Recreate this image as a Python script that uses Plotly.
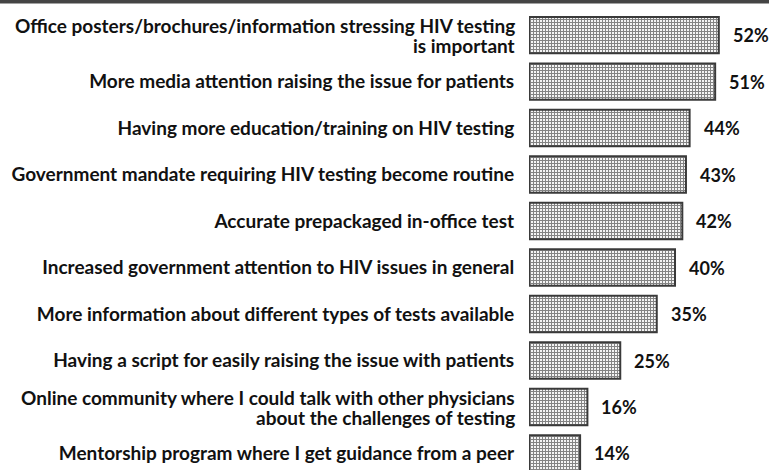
import plotly.graph_objects as go

categories = [
    "Office posters/brochures/information stressing HIV testing<br>is important",
    "More media attention raising the issue for patients",
    "Having more education/training on HIV testing",
    "Government mandate requiring HIV testing become routine",
    "Accurate prepackaged in-office test",
    "Increased government attention to HIV issues in general",
    "More information about different types of tests available",
    "Having a script for easily raising the issue with patients",
    "Online community where I could talk with other physicians<br>about the challenges of testing",
    "Mentorship program where I get guidance from a peer",
]
values = [52, 51, 44, 43, 42, 40, 35, 25, 16, 14]
value_labels = [f"{v}%" for v in values]

FONT = "Lato, sans-serif"
LABEL_SIZE = 19

fig = go.Figure(go.Bar(
    x=values,
    y=categories,
    orientation="h",
    width=0.78,
    marker=dict(
        color="#e0e0e0",
        line=dict(color="#3a3a3a", width=2),
        pattern=dict(shape="+", fgcolor="#111111", bgcolor="#f4f4f4", size=3, solidity=0.55),
    ),
    hoverinfo="skip",
))

# value labels
for v, lab, cat in zip(values, value_labels, categories):
    fig.add_annotation(
        x=v, y=cat, text=f"<b>{lab}</b>", showarrow=False,
        xanchor="left", xshift=12,
        font=dict(family=FONT, size=18, color="#111111"),
    )

# category labels (multi-line ones drawn line by line for tighter spacing)
ticktext = []
for cat in categories:
    parts = cat.split("<br>")
    if len(parts) == 1:
        ticktext.append(f"<b>{cat}</b>")
    else:
        ticktext.append("")
        n = len(parts)
        for k, line in enumerate(parts):
            fig.add_annotation(
                xref="paper", x=0, y=cat, text=f"<b>{line}</b>", showarrow=False,
                xanchor="right", xshift=-12, yshift=(n - 1) * 10 - k * 20,
                font=dict(family=FONT, size=LABEL_SIZE, color="#111111"),
            )

# top rule
fig.add_shape(type="rect", xref="paper", yref="paper", x0=-2.3, x1=1.0,
              y0=1 - 3.5 / 470, y1=1.0, fillcolor="#444444", line=dict(width=0),
              layer="above")

fig.update_layout(
    width=769, height=470,
    margin=dict(l=529, r=0, t=0, b=0, autoexpand=False),
    paper_bgcolor="white", plot_bgcolor="white",
    showlegend=False,
    xaxis=dict(range=[0, 65.75], visible=False, fixedrange=True, automargin=False),
    yaxis=dict(
        range=[9.355, -0.753],
        automargin=False, fixedrange=True,
        tickfont=dict(family=FONT, size=LABEL_SIZE, color="#111111"),
        ticks="outside", ticklen=10, tickcolor="rgba(0,0,0,0)",
        showgrid=False, showline=False, zeroline=False,
        tickmode="array", tickvals=categories,
        ticktext=ticktext,
    ),
)

fig.write_html("out.html", config={"displayModeBar": False},
               post_script="document.body.style.margin='0';")
